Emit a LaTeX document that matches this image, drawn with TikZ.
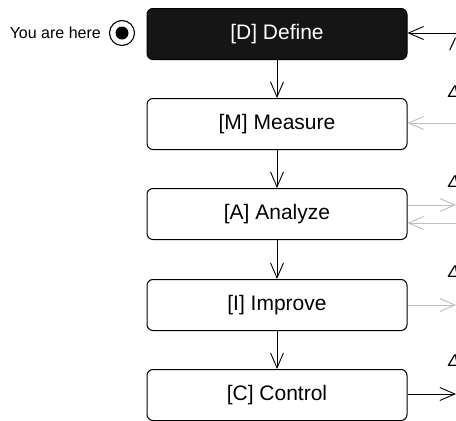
\documentclass[tikz,border=0pt]{standalone}
\usepackage{fontspec}
\setmainfont{Liberation Sans}
\usetikzlibrary{arrows.meta}
\definecolor{darkfill}{HTML}{151515}
\definecolor{lightgrey}{HTML}{BDBDBD}
\tikzset{
  phase/.style={draw=black, line width=1pt, rounded corners=6pt, fill=white,
    minimum width=260pt, minimum height=51pt, inner sep=0pt,
    font=\fontsize{21}{25}\selectfont},
  current/.style={phase, fill=darkfill, text=white},
  flow/.style={line width=1pt, -{Straight Barb[length=15pt,width=13pt,line width=0.9pt]}},
  side/.style={flow, draw=black},
  sidegrey/.style={flow, draw=lightgrey},
  frag/.style={anchor=base west, inner sep=0pt, font=\fontsize{17}{19}\selectfont\itshape}
}
\begin{document}
\begin{tikzpicture}[x=1pt,y=-1pt]
\useasboundingbox (0,0) rectangle (456,421);
\clip (0,0) rectangle (456,421);
\node[current] (D) at (277,34) {[D] Define};
\node[phase] (M) at (277,124) {[M] Measure};
\node[phase] (A) at (277,214) {[A] Analyze};
\node[phase] (I) at (277,305) {[I] Improve};
\node[phase] (C) at (277,395) {[C] Control};
\draw[flow] (D) -- (M);
\draw[flow] (M) -- (A);
\draw[flow] (A) -- (I);
\draw[flow] (I) -- (C);
% marker
\node[circle, draw=black, line width=1.1pt, minimum size=25pt, inner sep=0pt] (mark) at (122,33) {};
\node[circle, fill=black, minimum size=13pt, inner sep=0pt] (dot) at (mark) {};
\node[anchor=east, inner sep=0pt, font=\fontsize{16}{19}\selectfont] (here) at (101,33) {You are here};
% side connectors
\coordinate (eD) at (458,33);
\coordinate (eMi) at (458,123);
\coordinate (eAo) at (456,205);
\coordinate (eAi) at (458,223);
\coordinate (eIo) at (456,305);
\coordinate (eCo) at (456,394);
\draw[side] (eD) -- (D.east |- eD);
\draw[sidegrey] (eMi) -- (M.east |- eMi);
\draw[sidegrey] (A.east |- eAo) -- (eAo);
\draw[sidegrey] (eAi) -- (A.east |- eAi);
\draw[sidegrey] (I.east |- eIo) -- (eIo);
\draw[side] (C.east |- eCo) -- (eCo);
% clipped label fragments
\node[frag] (f1) at (450,50) {/};
\node[frag] (f2) at (448,97) {Δ};
\node[frag] (f3) at (448,187) {Δ};
\node[frag] (f4) at (448,277) {Δ};
\node[frag] (f5) at (448,366) {Δ};
\end{tikzpicture}
\end{document}
